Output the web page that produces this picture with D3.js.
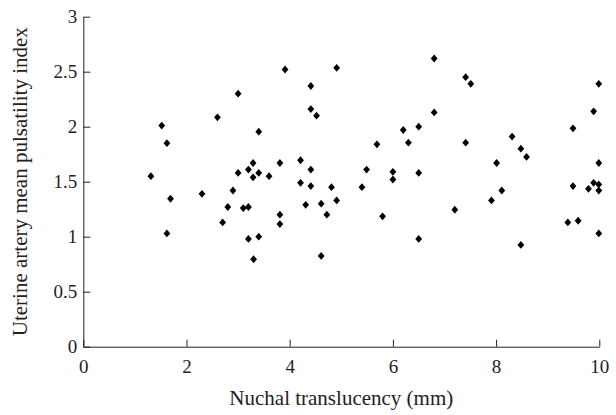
<!DOCTYPE html>
<meta charset="utf-8">
<head>
<style>
  body { margin: 0; background: #fff; }
  .axis text { font-family: "Liberation Serif", "DejaVu Serif", serif; font-size: 19px; fill: #222; }
  .axis path, .axis line { stroke: #222; stroke-width: 1; }
  .title { font-family: "Liberation Serif", "DejaVu Serif", serif; font-size: 21px; fill: #222; }
</style>
</head>
<script src="https://cdn.jsdelivr.net/npm/d3@7"></script>
<body>
<div id="vis"></div>
<script>
// nuchal translucency (mm)
var ntValues = [1.31, 1.52, 1.62, 1.62, 1.69, 2.30, 2.60, 2.70, 2.80, 2.90,
  3.00, 3.00, 3.10, 3.20, 3.20, 3.20, 3.29, 3.29, 3.30, 3.40,
  3.40, 3.40, 3.60, 3.81, 3.81, 3.81, 3.91, 4.21, 4.21, 4.31,
  4.41, 4.41, 4.41, 4.41, 4.52, 4.61, 4.61, 4.72, 4.81, 4.91,
  4.91, 5.40, 5.49, 5.69, 5.80, 6.00, 6.00, 6.20, 6.30, 6.50,
  6.50, 6.50, 6.80, 6.80, 7.20, 7.41, 7.41, 7.51, 7.91, 8.01,
  8.11, 8.31, 8.48, 8.48, 8.59, 9.39, 9.49, 9.49, 9.59, 9.79,
  9.89, 9.89, 9.99, 9.99, 9.99, 9.99, 9.99];
// uterine artery mean pulsatility index
var piValues = [1.55, 2.01, 1.85, 1.03, 1.345, 1.39, 2.085, 1.13, 1.27, 1.42,
  2.30, 1.58, 1.26, 1.61, 1.27, 0.98, 1.67, 1.54, 0.795, 1.955,
  1.58, 1.00, 1.55, 1.67, 1.20, 1.115, 2.52, 1.695, 1.49, 1.29,
  2.37, 2.16, 1.61, 1.46, 2.10, 1.30, 0.825, 1.20, 1.45, 2.535,
  1.33, 1.45, 1.61, 1.84, 1.185, 1.59, 1.52, 1.97, 1.855, 2.00,
  1.58, 0.98, 2.62, 2.13, 1.245, 2.45, 1.855, 2.39, 1.33, 1.67,
  1.42, 1.91, 1.80, 0.925, 1.725, 1.13, 1.985, 1.46, 1.145, 1.435,
  2.14, 1.49, 2.39, 1.67, 1.475, 1.42, 1.03];
var xTicks = [0, 2, 4, 6, 8, 10];
var yTicks = [0, 0.5, 1, 1.5, 2, 2.5, 3];

var width = 616, height = 415;
var margin = {top: 16.7, left: 83.3, bottom: 68.3, right: 16.7};
var chartWidth = width - margin.left - margin.right,
    chartHeight = height - margin.top - margin.bottom;

var svg = d3.select("#vis").append("svg")
    .attr("width", width)
    .attr("height", height);
var g = svg.append("g")
    .attr("transform", "translate(" + margin.left + "," + margin.top + ")");

var x = d3.scaleLinear().domain([0, 10]).range([0, chartWidth]);
var y = d3.scaleLinear().domain([0, 3]).range([chartHeight, 0]);

// axes with ticks pointing inwards
g.append("g")
    .attr("class", "axis")
    .attr("transform", "translate(0," + chartHeight + ")")
    .call(d3.axisBottom(x).tickValues(xTicks).tickSizeInner(-7).tickSizeOuter(0).tickPadding(13)
      .tickFormat(d3.format("d")));

g.append("g")
    .attr("class", "axis")
    .call(d3.axisLeft(y).tickValues(yTicks).tickSizeInner(-7).tickSizeOuter(0).tickPadding(6)
      .tickFormat(function(d) { return String(d); }));

// diamonds
var dw = 3.4, dh = 3.9;
var diamond = "M0," + (-dh) + "L" + dw + ",0L0," + dh + "L" + (-dw) + ",0Z";
g.selectAll(".pt").data(ntValues)
  .enter().append("path")
    .attr("class", "pt")
    .attr("d", diamond)
    .attr("fill", "#000")
    .attr("transform", function(d, i) { return "translate(" + x(d) + "," + y(piValues[i]) + ")"; });

// axis titles
svg.append("text")
    .attr("class", "title")
    .attr("text-anchor", "middle")
    .attr("x", margin.left + chartWidth / 2)
    .attr("y", 405)
    .text("Nuchal translucency (mm)");

svg.append("text")
    .attr("class", "title")
    .attr("text-anchor", "middle")
    .attr("transform", "translate(27," + (margin.top + chartHeight / 2) + ") rotate(-90)")
    .text("Uterine artery mean pulsatility index");
</script>
</body>
